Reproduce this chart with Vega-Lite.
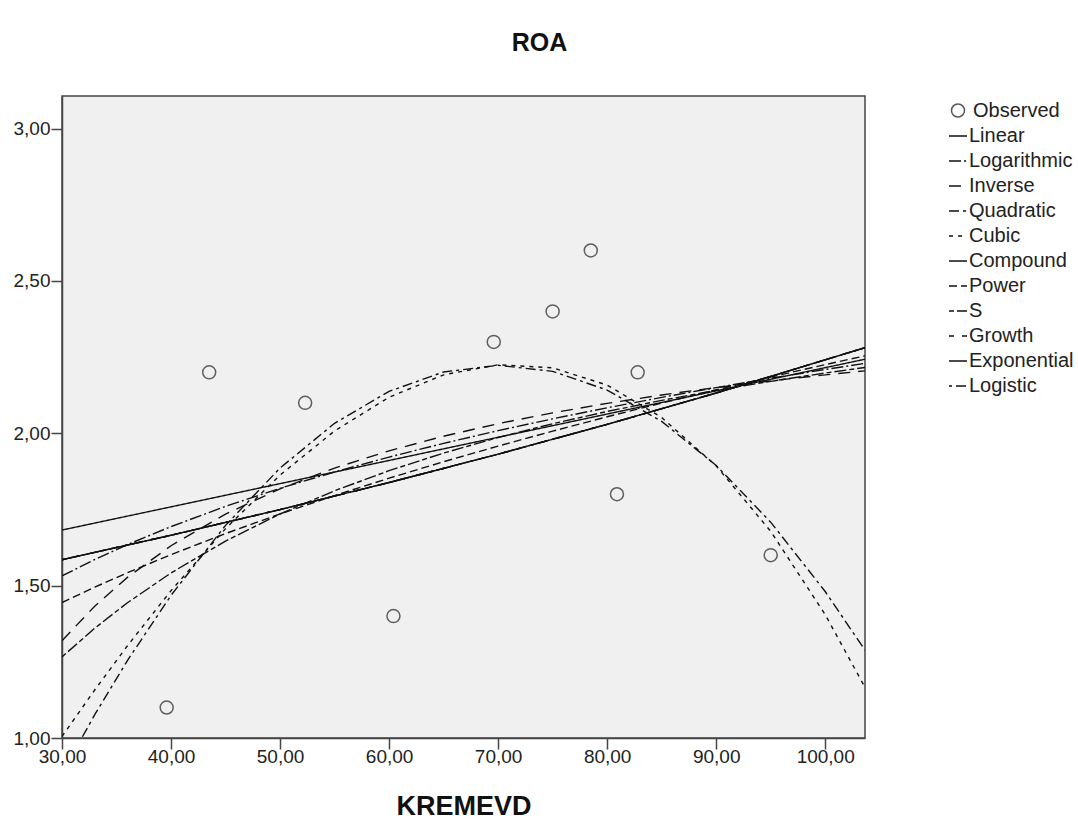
{
  "$schema": "https://vega.github.io/schema/vega-lite/v6.json",
  "width": 803,
  "height": 642,
  "autosize": "none",
  "padding": {"left": 62, "top": 96, "right": 213, "bottom": 86},
  "background": "white",
  "title": {"text": "ROA", "fontSize": 25, "fontWeight": "bold", "font": "Liberation Sans", "color": "#111", "anchor": "middle", "frame": "group", "baseline": "alphabetic", "offset": 20, "dx": 76},
  "config": {
    "view": {"fill": "#f0f0f0", "stroke": "#444", "strokeWidth": 1.5},
    "axis": {"labelFont": "Liberation Sans", "labelFontSize": 19, "labelColor": "#222", "tickColor": "#444", "tickWidth": 1.5, "tickSize": 11, "domainColor": "#444", "domainWidth": 1.5, "grid": false, "titleFont": "Liberation Sans", "titleFontSize": 27, "titleFontWeight": "bold", "titleColor": "#111", "labelFlush": false, "labelOverlap": false},
    "legend": {"labelFont": "Liberation Sans", "labelFontSize": 20, "labelColor": "#222", "symbolStrokeColor": "#111", "symbolStrokeWidth": 1.5, "rowPadding": 5, "padding": 0, "labelLimit": 300}
  },
  "datasets": {
    "curves": [
      {"m": "Linear", "x": 30, "y": 1.6825}, {"m": "Linear", "x": 103.65, "y": 2.2432},
      {"m": "Logarithmic", "x": 30, "y": 1.5321}, {"m": "Logarithmic", "x": 33, "y": 1.5857}, {"m": "Logarithmic", "x": 36, "y": 1.6347}, {"m": "Logarithmic", "x": 40, "y": 1.6939}, {"m": "Logarithmic", "x": 45, "y": 1.7602}, {"m": "Logarithmic", "x": 50, "y": 1.8195}, {"m": "Logarithmic", "x": 55, "y": 1.8731}, {"m": "Logarithmic", "x": 60, "y": 1.922}, {"m": "Logarithmic", "x": 65, "y": 1.967}, {"m": "Logarithmic", "x": 70, "y": 2.0087}, {"m": "Logarithmic", "x": 75, "y": 2.0475}, {"m": "Logarithmic", "x": 80, "y": 2.0838}, {"m": "Logarithmic", "x": 85, "y": 2.1179}, {"m": "Logarithmic", "x": 90, "y": 2.1501}, {"m": "Logarithmic", "x": 95, "y": 2.1805}, {"m": "Logarithmic", "x": 100, "y": 2.2094}, {"m": "Logarithmic", "x": 103.65, "y": 2.2295},
      {"m": "Inverse", "x": 30, "y": 1.3195}, {"m": "Inverse", "x": 33, "y": 1.4327}, {"m": "Inverse", "x": 36, "y": 1.5272}, {"m": "Inverse", "x": 40, "y": 1.631}, {"m": "Inverse", "x": 45, "y": 1.7349}, {"m": "Inverse", "x": 50, "y": 1.8179}, {"m": "Inverse", "x": 55, "y": 1.8859}, {"m": "Inverse", "x": 60, "y": 1.9425}, {"m": "Inverse", "x": 65, "y": 1.9905}, {"m": "Inverse", "x": 70, "y": 2.0316}, {"m": "Inverse", "x": 75, "y": 2.0672}, {"m": "Inverse", "x": 80, "y": 2.0983}, {"m": "Inverse", "x": 85, "y": 2.1258}, {"m": "Inverse", "x": 90, "y": 2.1502}, {"m": "Inverse", "x": 95, "y": 2.1721}, {"m": "Inverse", "x": 100, "y": 2.1918}, {"m": "Inverse", "x": 103.65, "y": 2.2049},
      {"m": "Quadratic", "x": 30, "y": 0.8836}, {"m": "Quadratic", "x": 33, "y": 1.0764}, {"m": "Quadratic", "x": 36, "y": 1.2543}, {"m": "Quadratic", "x": 40, "y": 1.4681}, {"m": "Quadratic", "x": 45, "y": 1.6979}, {"m": "Quadratic", "x": 50, "y": 1.8861}, {"m": "Quadratic", "x": 55, "y": 2.0328}, {"m": "Quadratic", "x": 60, "y": 2.1378}, {"m": "Quadratic", "x": 65, "y": 2.2013}, {"m": "Quadratic", "x": 70, "y": 2.2231}, {"m": "Quadratic", "x": 75, "y": 2.2034}, {"m": "Quadratic", "x": 80, "y": 2.142}, {"m": "Quadratic", "x": 85, "y": 2.0391}, {"m": "Quadratic", "x": 90, "y": 1.8946}, {"m": "Quadratic", "x": 95, "y": 1.7084}, {"m": "Quadratic", "x": 100, "y": 1.4807}, {"m": "Quadratic", "x": 103.65, "y": 1.2882},
      {"m": "Cubic", "x": 30, "y": 1.0051}, {"m": "Cubic", "x": 33, "y": 1.1576}, {"m": "Cubic", "x": 36, "y": 1.3027}, {"m": "Cubic", "x": 40, "y": 1.4836}, {"m": "Cubic", "x": 45, "y": 1.6872}, {"m": "Cubic", "x": 50, "y": 1.863}, {"m": "Cubic", "x": 55, "y": 2.0077}, {"m": "Cubic", "x": 60, "y": 2.1184}, {"m": "Cubic", "x": 65, "y": 2.1919}, {"m": "Cubic", "x": 70, "y": 2.2251}, {"m": "Cubic", "x": 75, "y": 2.2149}, {"m": "Cubic", "x": 80, "y": 2.1583}, {"m": "Cubic", "x": 85, "y": 2.052}, {"m": "Cubic", "x": 90, "y": 1.8931}, {"m": "Cubic", "x": 95, "y": 1.6784}, {"m": "Cubic", "x": 100, "y": 1.4049}, {"m": "Cubic", "x": 103.65, "y": 1.1662},
      {"m": "Compound", "x": 30, "y": 1.5851}, {"m": "Compound", "x": 40, "y": 1.6654}, {"m": "Compound", "x": 50, "y": 1.7497}, {"m": "Compound", "x": 60, "y": 1.8384}, {"m": "Compound", "x": 70, "y": 1.9315}, {"m": "Compound", "x": 80, "y": 2.0294}, {"m": "Compound", "x": 90, "y": 2.1322}, {"m": "Compound", "x": 103.65, "y": 2.281},
      {"m": "Power", "x": 30, "y": 1.4447}, {"m": "Power", "x": 33, "y": 1.4949}, {"m": "Power", "x": 36, "y": 1.5424}, {"m": "Power", "x": 40, "y": 1.6018}, {"m": "Power", "x": 45, "y": 1.6709}, {"m": "Power", "x": 50, "y": 1.7353}, {"m": "Power", "x": 55, "y": 1.7957}, {"m": "Power", "x": 60, "y": 1.8527}, {"m": "Power", "x": 65, "y": 1.9067}, {"m": "Power", "x": 70, "y": 1.9581}, {"m": "Power", "x": 75, "y": 2.0071}, {"m": "Power", "x": 80, "y": 2.0542}, {"m": "Power", "x": 85, "y": 2.0993}, {"m": "Power", "x": 90, "y": 2.1428}, {"m": "Power", "x": 95, "y": 2.1848}, {"m": "Power", "x": 100, "y": 2.2254}, {"m": "Power", "x": 103.65, "y": 2.2542},
      {"m": "S", "x": 30, "y": 1.2662}, {"m": "S", "x": 33, "y": 1.3602}, {"m": "S", "x": 36, "y": 1.4438}, {"m": "S", "x": 40, "y": 1.5418}, {"m": "S", "x": 45, "y": 1.6464}, {"m": "S", "x": 50, "y": 1.7352}, {"m": "S", "x": 55, "y": 1.8114}, {"m": "S", "x": 60, "y": 1.8774}, {"m": "S", "x": 65, "y": 1.9351}, {"m": "S", "x": 70, "y": 1.9861}, {"m": "S", "x": 75, "y": 2.0313}, {"m": "S", "x": 80, "y": 2.0717}, {"m": "S", "x": 85, "y": 2.108}, {"m": "S", "x": 90, "y": 2.1408}, {"m": "S", "x": 95, "y": 2.1706}, {"m": "S", "x": 100, "y": 2.1978}, {"m": "S", "x": 103.65, "y": 2.2161},
      {"m": "Growth", "x": 30, "y": 1.5851}, {"m": "Growth", "x": 40, "y": 1.6654}, {"m": "Growth", "x": 50, "y": 1.7497}, {"m": "Growth", "x": 60, "y": 1.8384}, {"m": "Growth", "x": 70, "y": 1.9315}, {"m": "Growth", "x": 80, "y": 2.0294}, {"m": "Growth", "x": 90, "y": 2.1322}, {"m": "Growth", "x": 103.65, "y": 2.281},
      {"m": "Exponential", "x": 30, "y": 1.5851}, {"m": "Exponential", "x": 40, "y": 1.6654}, {"m": "Exponential", "x": 50, "y": 1.7497}, {"m": "Exponential", "x": 60, "y": 1.8384}, {"m": "Exponential", "x": 70, "y": 1.9315}, {"m": "Exponential", "x": 80, "y": 2.0294}, {"m": "Exponential", "x": 90, "y": 2.1322}, {"m": "Exponential", "x": 103.65, "y": 2.281},
      {"m": "Logistic", "x": 30, "y": 1.5851}, {"m": "Logistic", "x": 40, "y": 1.6654}, {"m": "Logistic", "x": 50, "y": 1.7497}, {"m": "Logistic", "x": 60, "y": 1.8384}, {"m": "Logistic", "x": 70, "y": 1.9315}, {"m": "Logistic", "x": 80, "y": 2.0294}, {"m": "Logistic", "x": 90, "y": 2.1322}, {"m": "Logistic", "x": 103.65, "y": 2.281}
    ],
    "points": [
      {"kind": "Observed", "x": 39.6, "y": 1.1},
      {"kind": "Observed", "x": 43.5, "y": 2.2},
      {"kind": "Observed", "x": 52.3, "y": 2.1},
      {"kind": "Observed", "x": 60.4, "y": 1.4},
      {"kind": "Observed", "x": 69.6, "y": 2.3},
      {"kind": "Observed", "x": 75.0, "y": 2.4},
      {"kind": "Observed", "x": 78.5, "y": 2.6},
      {"kind": "Observed", "x": 80.9, "y": 1.8},
      {"kind": "Observed", "x": 82.8, "y": 2.2},
      {"kind": "Observed", "x": 95.0, "y": 1.6}
    ]
  },
  "layer": [
    {
      "data": {"name": "curves"},
      "mark": {"type": "line", "clip": true, "strokeWidth": 1.4, "color": "#111"},
      "encoding": {
        "x": {"field": "x", "type": "quantitative", "scale": {"domain": [30, 103.65], "nice": false, "zero": false},
              "axis": {"values": [30, 40, 50, 60, 70, 80, 90, 100], "format": ".2f", "labelExpr": "replace(datum.label, '.', ',')", "labelBaseline": "alphabetic", "labelPadding": 13, "title": "KREMEVD", "titleX": 401.5, "titleY": 76, "titleBaseline": "alphabetic", "titleAlign": "center", "titleAnchor": null}},
        "y": {"field": "y", "type": "quantitative", "scale": {"domain": [1, 3.107], "nice": false, "zero": false},
              "axis": {"values": [1, 1.5, 2, 2.5, 3], "format": ".2f", "labelExpr": "replace(datum.label, '.', ',')", "labelPadding": 1, "labelBaseline": "middle", "title": null}},
        "strokeDash": {"field": "m", "type": "nominal",
          "scale": {"domain": ["Linear", "Logarithmic", "Inverse", "Quadratic", "Cubic", "Compound", "Power", "S", "Growth", "Exponential", "Logistic"],
                    "range": [[1, 0], [12, 3, 2, 3], [12, 8], [10, 4, 3, 4], [4, 5], [22, 3, 2, 3], [8, 4], [5, 3, 12, 3], [5, 8], [1, 0], [3, 4, 10, 4]]},
          "legend": {"title": null, "orient": "none", "legendX": 886, "legendY": 30, "symbolSize": 324, "labelOffset": 1, "symbolType": "stroke"}}
      }
    },
    {
      "data": {"name": "points"},
      "mark": {"type": "point", "filled": false, "size": 169, "strokeWidth": 1.5, "color": "#222"},
      "encoding": {
        "x": {"field": "x", "type": "quantitative"},
        "y": {"field": "y", "type": "quantitative"},
        "shape": {"field": "kind", "type": "nominal", "scale": {"domain": ["Observed"], "range": ["circle"]},
          "legend": {"title": null, "orient": "none", "legendX": 886, "legendY": 4.5, "labelOffset": 5, "symbolSize": 169}}
      }
    }
  ]
}
